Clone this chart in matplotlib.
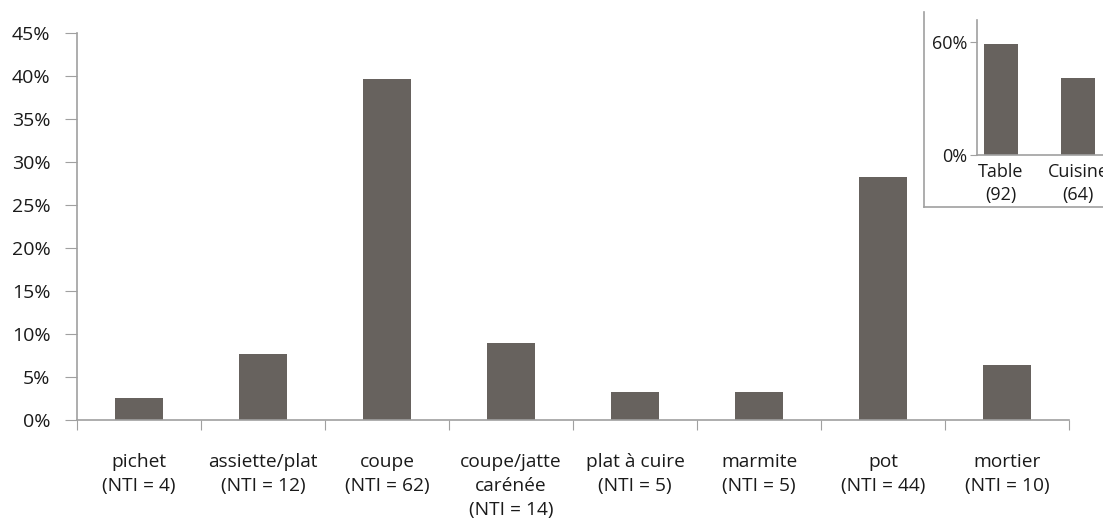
import matplotlib.pyplot as plt
from matplotlib.lines import Line2D
from matplotlib.ticker import FuncFormatter
import numpy as np

plt.rcParams['font.family'] = ['Open Sans', 'DejaVu Sans']

categories = ['pichet\n(NTI = 4)', 'assiette/plat\n(NTI = 12)', 'coupe\n(NTI = 62)',
              'coupe/jatte\ncarénée\n(NTI = 14)', 'plat à cuire\n(NTI = 5)',
              'marmite\n(NTI = 5)', 'pot\n(NTI = 44)', 'mortier\n(NTI = 10)']
values = [2.6, 7.7, 39.7, 9.0, 3.2, 3.2, 28.2, 6.4]
y_ticks = [0, 5, 10, 15, 20, 25, 30, 35, 40, 45]

inset_categories = ['Table\n(92)', 'Cuisine\n(64)']
inset_values = [59.0, 41.0]
inset_ticks = [0, 60]

bar_color = '#67625e'
axis_color = '#a0a0a0'
text_color = '#1a1a1a'
pct = FuncFormatter(lambda v, p: f'{v:.0f}%')

fig = plt.figure(figsize=(11.03, 5.24), dpi=100, facecolor='white')

# main chart
ax = fig.add_axes([0.0698, 0.1985, 0.8994, 0.7385])
x = np.arange(len(categories))
ax.bar(x, values, width=0.39, color=bar_color)
ax.set_xlim(-0.5, len(categories) - 0.5)
ax.set_ylim(0, 45)
ax.set_yticks(y_ticks)
ax.yaxis.set_major_formatter(pct)
ax.set_xticks(np.arange(len(categories) + 1) - 0.5)
ax.set_xticklabels([])
ax.set_xticks(x, minor=True)
ax.set_xticklabels(categories, minor=True, linespacing=1.42)
ax.tick_params(axis='x', which='major', length=7, color=axis_color, direction='out')
ax.tick_params(axis='x', which='minor', length=0, pad=24, labelsize=13.8, labelcolor=text_color)
ax.tick_params(axis='y', length=9, color=axis_color, pad=10, labelsize=14, labelcolor=text_color)
for s in ['top', 'right']:
    ax.spines[s].set_visible(False)
for s in ['left', 'bottom']:
    ax.spines[s].set_color(axis_color)
    ax.spines[s].set_linewidth(1.2)

# inset frame
fig.add_artist(Line2D([0.8377, 0.8377], [0.605, 0.977], color=axis_color, lw=1.2))
fig.add_artist(Line2D([0.8377, 1.0], [0.605, 0.605], color=axis_color, lw=1.2))

# inset chart (runs off the right edge, as in the original)
ins = fig.add_axes([0.8858, 0.7042, 0.1142, 0.2576])
xi = np.arange(len(inset_categories))
ins.bar(xi, inset_values, width=0.44, color=bar_color)
ins.set_xlim(-0.312, 1.325)
ins.set_ylim(0, 71.5)
ins.set_yticks(inset_ticks)
ins.yaxis.set_major_formatter(pct)
ins.set_xticks(xi)
ins.set_xticklabels(inset_categories, linespacing=1.3)
ins.tick_params(axis='x', length=0, pad=6, labelsize=13, labelcolor=text_color)
ins.tick_params(axis='y', length=5, color=axis_color, pad=2, labelsize=13, labelcolor=text_color)
for s in ['top', 'right']:
    ins.spines[s].set_visible(False)
for s in ['left', 'bottom']:
    ins.spines[s].set_color(axis_color)
    ins.spines[s].set_linewidth(1.2)

fig.savefig('out.png', dpi=100, facecolor='white')
